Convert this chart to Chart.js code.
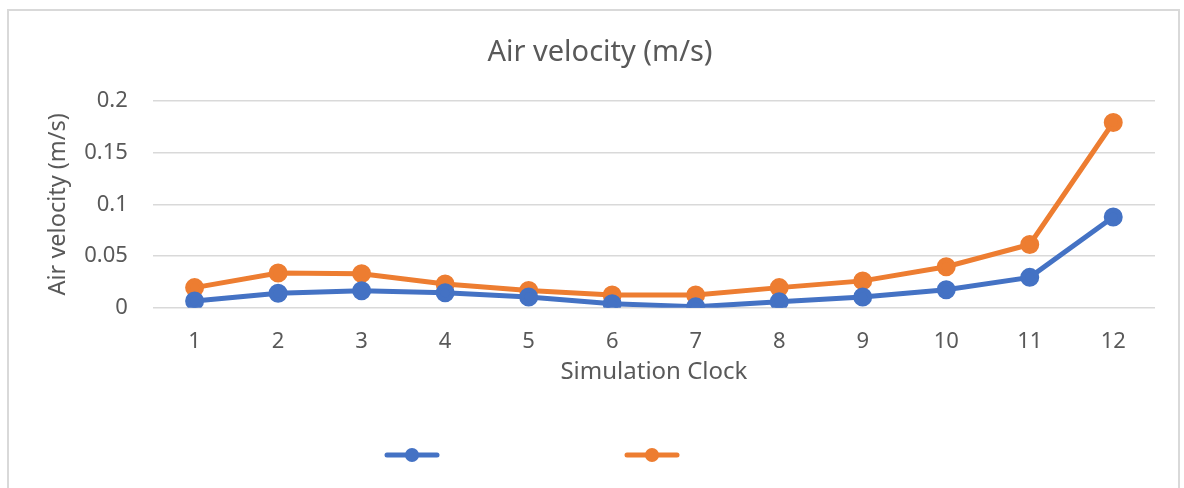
<!DOCTYPE html>
<html>
<head>
<meta charset="utf-8">
<script src="https://cdn.jsdelivr.net/npm/chart.js@4.4.1/dist/chart.umd.min.js"></script>
<style>
  html, body { margin: 0; padding: 0; background: #fff; }
  #frame {
    position: absolute; left: 7px; top: 9px; width: 1173px; height: 500px;
    border: 2px solid #d9d9d9; box-sizing: border-box;
  }
  #wrap { position: absolute; left: 0; top: 0; width: 1184px; height: 488px; }
</style>
</head>
<body>
<div id="frame"></div>
<div id="wrap"><canvas id="grafico"></canvas></div>
<script>
const relogio = ['1', '2', '3', '4', '5', '6', '7', '8', '9', '10', '11', '12'];
const serieAzul = [0.0065, 0.014, 0.0165, 0.0145, 0.0105, 0.004, 0.001, 0.0058, 0.0105, 0.0175, 0.0294, 0.0878];
const serieLaranja = [0.0195, 0.0336, 0.033, 0.023, 0.0168, 0.0124, 0.0124, 0.0195, 0.026, 0.0397, 0.0612, 0.179];
const ticksY = [0, 0.05, 0.1, 0.15, 0.2];

const cinza = '#595959';
const azul = '#4472c4';
const laranja = '#ed7d31';
const fonte = "'Noto Sans', 'Open Sans', sans-serif";

// amostra da legenda: linha curta com bolinha, deslocada para a esquerda
function amostra(cor) {
  const c = document.createElement('canvas');
  c.width = 186; c.height = 16;
  const g = c.getContext('2d');
  g.strokeStyle = cor; g.fillStyle = cor;
  g.lineWidth = 5; g.lineCap = 'round';
  g.beginPath(); g.moveTo(3, 8); g.lineTo(53, 8); g.stroke();
  g.beginPath(); g.arc(28, 8, 7, 0, Math.PI * 2); g.fill();
  return c;
}

const ctx = document.getElementById('grafico').getContext('2d');
let grafico = new Chart(ctx, {
    type: 'line',
    data: {
        labels: relogio,
        datasets: [{
            label: '',
            data: serieAzul,
            borderColor: azul,
            backgroundColor: azul,
            borderWidth: 5,
            pointRadius: 7,
            pointStyle: 'circle',
            legendSymbol: amostra(azul)
        }, {
            label: '',
            data: serieLaranja,
            borderColor: laranja,
            backgroundColor: laranja,
            borderWidth: 5,
            pointRadius: 7,
            pointStyle: 'circle',
            legendSymbol: amostra(laranja)
        }]
    },
    options: {
        responsive: true,
        maintainAspectRatio: false,
        animation: false,
        layout: { padding: { left: 45, right: 29, top: 0, bottom: 17 } },
        plugins: {
            title: {
                display: true,
                text: 'Air velocity (m/s)',
                color: cinza,
                font: { family: fonte, size: 29, weight: 'normal' },
                padding: { top: 35, bottom: 31 }
            },
            legend: {
                position: 'bottom',
                labels: {
                    usePointStyle: true,
                    pointStyleWidth: 224,
                    padding: 10,
                    font: { size: 12 },
                    generateLabels: (chart) => chart.data.datasets.map((ds, i) => ({
                        text: ds.label,
                        pointStyle: ds.legendSymbol,
                        fillStyle: ds.borderColor,
                        strokeStyle: ds.borderColor,
                        lineWidth: 0,
                        datasetIndex: i
                    }))
                }
            },
            tooltip: { enabled: false }
        },
        scales: {
            x: {
                offset: true,
                grid: { display: false, drawTicks: false },
                border: { display: false },
                ticks: { color: cinza, padding: 21, font: { family: fonte, size: 22 } },
                title: {
                    display: true,
                    text: 'Simulation Clock',
                    color: cinza,
                    font: { family: fonte, size: 24 },
                    padding: { top: -18, bottom: 52 }
                }
            },
            y: {
                min: 0,
                max: 0.2,
                afterBuildTicks: (escala) => { escala.ticks = ticksY.map(v => ({ value: v })); },
                grid: { color: '#d9d9d9', lineWidth: 1.5, drawTicks: false },
                border: { display: false },
                ticks: {
                    color: cinza,
                    padding: 25,
                    font: { family: fonte, size: 22 },
                    callback: (v) => String(Number(v.toFixed(2)))
                },
                title: {
                    display: true,
                    text: 'Air velocity (m/s)',
                    color: cinza,
                    font: { family: fonte, size: 23.5 },
                    padding: { top: -1, bottom: -13 }
                }
            }
        }
    }
});
</script>
</body>
</html>
